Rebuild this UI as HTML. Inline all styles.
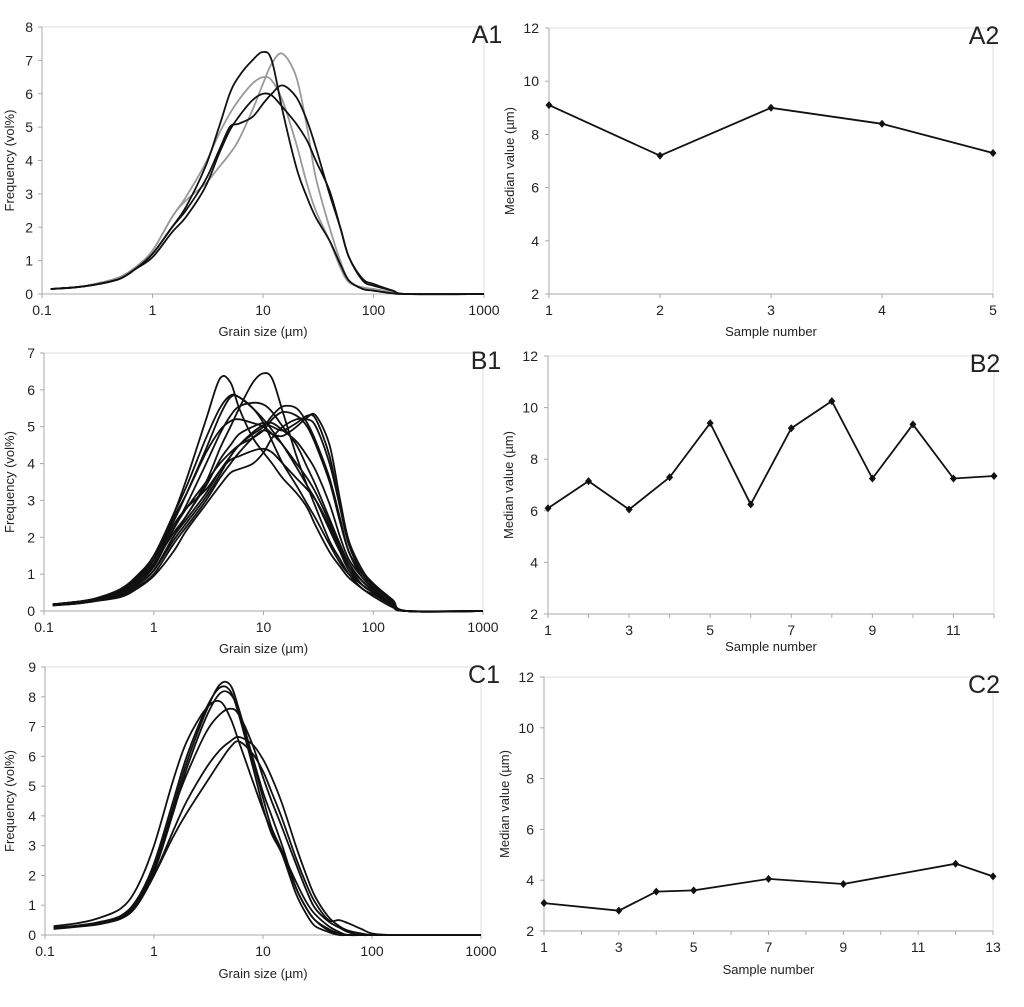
<!DOCTYPE html>
<html><head><meta charset="utf-8">
<style>
html,body{margin:0;padding:0;background:#fff;}
svg{display:block;font-family:"Liberation Sans",sans-serif;}
</style></head>
<body>
<svg id="fig" width="1024" height="1007" viewBox="0 0 1024 1007" xmlns="http://www.w3.org/2000/svg"></svg>
<script>
// ---- data ----
const grainSizes = [0.12,0.2,0.3,0.5,0.7,1,1.5,2,3,4,5,6,8,10,12,15,20,25,30,40,50,60,80,100,150,200,1000];
const xLogTicks = [0.1,1,10,100,1000];
const xLogTickLabels = ["0.1","1","10","100","1000"];

const seriesA1 = [
 [0.15,0.2,0.28,0.45,0.75,1.2,2.0,2.6,3.8,5.0,6.0,6.5,7.0,7.25,7.0,5.5,3.8,2.9,2.3,1.6,0.9,0.4,0.15,0.1,0.02,0,0],
 [0.15,0.2,0.28,0.45,0.75,1.2,2.0,2.5,3.4,4.3,5.0,5.1,5.3,5.7,6.0,6.25,5.9,5.2,4.4,3.0,2.0,1.1,0.45,0.3,0.1,0,0],
 [0.15,0.2,0.28,0.45,0.75,1.1,1.85,2.3,3.2,4.2,4.9,5.3,5.8,6.0,5.95,5.6,5.1,4.6,4.0,3.1,2.0,1.1,0.4,0.25,0.1,0,0]
];
const seriesA1gray = [
 [0.15,0.2,0.3,0.5,0.8,1.3,2.3,2.8,3.3,3.8,4.2,4.6,5.5,6.3,6.9,7.2,6.5,5.0,3.5,2.0,1.0,0.4,0.15,0.15,0.05,0,0],
 [0.15,0.2,0.3,0.5,0.8,1.3,2.3,2.9,3.9,4.8,5.4,5.8,6.3,6.5,6.4,5.8,4.5,3.3,2.5,1.6,0.8,0.35,0.2,0.15,0.05,0,0]
];
const seriesB1 = [
 [0.18,0.25,0.33,0.55,0.9,1.5,2.6,3.6,5.2,6.3,6.2,5.5,4.7,4.3,4.0,3.6,3.2,2.8,2.3,1.6,1.2,0.9,0.6,0.4,0.1,0,0],
 [0.18,0.25,0.33,0.5,0.8,1.3,2.1,2.6,3.5,4.4,5.0,5.5,6.2,6.45,6.3,5.4,4.2,3.4,2.8,1.9,1.4,1.0,0.6,0.45,0.15,0,0],
 [0.18,0.25,0.35,0.6,0.95,1.5,2.6,3.4,4.7,5.5,5.85,5.8,5.5,5.2,4.9,4.5,3.9,3.4,3.0,2.2,1.6,1.2,0.8,0.55,0.2,0,0],
 [0.18,0.24,0.32,0.5,0.85,1.4,2.4,3.2,4.4,5.3,5.8,5.8,5.5,5.1,4.6,4.0,3.4,2.9,2.5,1.8,1.3,1.0,0.7,0.5,0.15,0,0],
 [0.18,0.24,0.32,0.5,0.8,1.25,2.2,2.9,4.0,4.8,5.3,5.55,5.65,5.6,5.4,5.0,4.5,3.9,3.4,2.5,1.8,1.3,0.8,0.55,0.2,0,0],
 [0.16,0.22,0.3,0.45,0.7,1.1,1.9,2.4,3.1,3.7,4.2,4.5,4.8,5.0,5.3,5.55,5.5,5.1,4.6,3.6,2.5,1.6,1.0,0.7,0.25,0,0],
 [0.16,0.22,0.3,0.45,0.75,1.2,2.2,2.8,3.5,4.0,4.3,4.5,4.7,4.9,5.2,5.4,5.3,5.0,4.5,3.5,2.4,1.6,0.9,0.65,0.25,0,0],
 [0.16,0.2,0.28,0.42,0.65,1.0,1.8,2.3,3.0,3.6,4.0,4.3,4.7,4.9,4.8,4.75,5.0,5.25,5.3,4.5,3.0,1.9,1.1,0.75,0.3,0,0],
 [0.16,0.22,0.3,0.45,0.7,1.1,2.0,2.6,3.4,4.1,4.5,4.8,5.0,5.1,5.0,4.9,5.1,5.3,5.2,4.2,2.8,1.8,1.0,0.7,0.3,0,0],
 [0.18,0.24,0.32,0.5,0.85,1.4,2.5,3.2,4.3,4.9,5.15,5.2,5.1,5.0,4.8,4.5,4.0,3.6,3.2,2.4,1.7,1.2,0.7,0.5,0.15,0,0],
 [0.16,0.22,0.3,0.45,0.7,1.1,2.0,2.5,3.2,3.8,4.2,4.5,4.85,5.05,5.1,4.9,4.6,4.2,3.8,2.9,2.0,1.4,0.9,0.6,0.2,0,0],
 [0.15,0.2,0.27,0.38,0.6,0.95,1.6,2.2,2.9,3.4,3.75,3.85,4.0,4.3,4.7,5.0,5.2,5.2,5.0,4.0,2.8,1.8,1.0,0.7,0.3,0,0],
 [0.16,0.22,0.3,0.48,0.8,1.3,2.3,2.8,3.3,3.8,4.1,4.2,4.35,4.4,4.3,4.0,3.6,3.3,3.0,2.3,1.6,1.1,0.7,0.5,0.15,0,0]
];
const seriesC1 = [
 [0.25,0.3,0.38,0.6,1.1,2.2,4.3,5.8,7.5,8.4,8.4,7.6,6.0,4.8,4.0,3.0,1.6,0.9,0.5,0.15,0.05,0,0,0,0,0,0],
 [0.25,0.3,0.4,0.65,1.2,2.4,4.5,6.0,7.6,8.3,8.2,7.4,5.7,4.3,3.4,2.7,1.4,0.7,0.3,0.1,0,0,0,0,0,0,0],
 [0.2,0.28,0.35,0.55,1.0,2.1,4.1,5.6,7.3,8.1,8.1,7.5,5.9,4.6,3.6,2.8,1.6,0.9,0.5,0.2,0.05,0,0,0,0,0,0],
 [0.3,0.4,0.55,0.9,1.6,3.0,5.2,6.5,7.6,7.85,7.3,6.5,5.2,4.2,3.5,2.8,1.8,1.1,0.7,0.3,0.1,0,0,0,0,0,0],
 [0.25,0.32,0.42,0.65,1.2,2.3,4.2,5.4,6.8,7.4,7.6,7.4,6.4,5.3,4.5,3.6,2.4,1.5,0.9,0.45,0.25,0.1,0,0,0,0,0],
 [0.25,0.3,0.4,0.6,1.05,2.0,3.5,4.5,5.6,6.2,6.5,6.65,6.4,5.9,5.3,4.4,3.0,2.0,1.3,0.6,0.3,0.15,0.05,0,0,0,0],
 [0.25,0.3,0.4,0.6,1.05,2.0,3.3,4.1,5.1,5.8,6.3,6.5,6.1,5.5,4.8,3.9,2.6,1.7,1.1,0.5,0.5,0.4,0.2,0.05,0,0,0]
];
const samplesA2 = [1,2,3,4,5];
const mediansA2 = [9.1,7.2,9.0,8.4,7.3];
const samplesB2 = [1,2,3,4,5,6,7,8,9,10,11,12];
const mediansB2 = [6.1,7.15,6.05,7.3,9.4,6.25,9.2,10.25,7.25,9.35,7.25,7.35];
const samplesC2 = [1,3,4,5,7,9,12,13];
const mediansC2 = [3.1,2.8,3.55,3.6,4.05,3.85,4.65,4.15];
const medianTicks = [2,4,6,8,10,12];

// ---- rendering ----
const svg = document.getElementById('fig');
const NS = 'http://www.w3.org/2000/svg';
function mk(tag, attrs, parent){
  const e = document.createElementNS(NS, tag);
  for (const k in attrs) e.setAttribute(k, attrs[k]);
  (parent||svg).appendChild(e);
  return e;
}
function txt(x,y,s,size,anchor,parent){
  const t = mk('text',{x:x,y:y,'font-size':size,'text-anchor':anchor||'middle',fill:'#222'},parent);
  t.textContent = s;
  return t;
}
function smoothPath(pts){
  let d = 'M'+pts[0][0].toFixed(1)+','+pts[0][1].toFixed(1);
  for (let i=0;i<pts.length-1;i++){
    const p0=pts[Math.max(0,i-1)], p1=pts[i], p2=pts[i+1], p3=pts[Math.min(pts.length-1,i+2)];
    const c1x=p1[0]+(p2[0]-p0[0])/6, c1y=p1[1]+(p2[1]-p0[1])/6;
    const c2x=p2[0]-(p3[0]-p1[0])/6, c2y=p2[1]-(p3[1]-p1[1])/6;
    d+=' C'+c1x.toFixed(1)+','+c1y.toFixed(1)+' '+c2x.toFixed(1)+','+c2y.toFixed(1)+' '+p2[0].toFixed(1)+','+p2[1].toFixed(1);
  }
  return d;
}
function frame(g,L,R,T,B){
  mk('rect',{x:L,y:T,width:R-L,height:B-T,fill:'none',stroke:'#dcdcdc','stroke-width':1},g);
  mk('line',{x1:L,y1:T,x2:L,y2:B,stroke:'#aaa','stroke-width':1},g);
  mk('line',{x1:L,y1:B,x2:R,y2:B,stroke:'#aaa','stroke-width':1},g);
}

function logPanel(name,label,L,R,T,B,ymax,blacks,grays,titleY){
  const g = mk('g',{});
  
  
  const xs = v => L + (Math.log10(v)+1)/4*(R-L);
  const ys = v => B - v/ymax*(B-T);
  frame(g,L,R,T,B);
  for (let i=0;i<=ymax;i++){
    mk('line',{x1:L-4,y1:ys(i),x2:L,y2:ys(i),stroke:'#aaa'},g);
    txt(L-9,ys(i)+5,String(i),14,'end',g);
  }
  xLogTicks.forEach((t,i)=>{
    mk('line',{x1:xs(t),y1:B,x2:xs(t),y2:B+4,stroke:'#aaa'},g);
    txt(xs(t),B+21,xLogTickLabels[i],14,'middle',g);
  });
  const xt = txt((L+R)/2,titleY,'Grain size (µm)',13,'middle',g);
  
  const yt = txt(0,0,'Frequency (vol%)',13,'middle',g);
  yt.setAttribute('transform','translate(14,'+((T+B)/2)+') rotate(-90)');
  
  const pl = txt(R+3,T+16,label,25,'middle',g);
  
  const draw=(arr,col,w)=>arr.forEach((s,k)=>{
    const pts = grainSizes.map((x,i)=>[xs(x),ys(s[i])]);
    const p = mk('path',{d:smoothPath(pts),fill:'none',stroke:col,'stroke-width':w,'stroke-linejoin':'round'},g);
    
    
  });
  draw(grays,'#9a9a9a',1.8);
  draw(blacks,'#111',1.8);
}

function medPanel(name,label,L,R,T,B,xmax,ticks,xsArr,vals,titleY){
  const g = mk('g',{});
  
  
  const xs = v => L + (v-1)/(xmax-1)*(R-L);
  const ys = v => B - (v-2)/10*(B-T);
  frame(g,L,R,T,B);
  medianTicks.forEach(t=>{
    mk('line',{x1:L-4,y1:ys(t),x2:L,y2:ys(t),stroke:'#aaa'},g);
    txt(L-10,ys(t)+5,String(t),14,'end',g);
  });
  for (let i=1;i<=xmax;i++) mk('line',{x1:xs(i),y1:B,x2:xs(i),y2:B+4,stroke:'#aaa'},g);
  ticks.forEach(t=>txt(xs(t),B+21,String(t),14,'middle',g));
  const xt = txt((L+R)/2,titleY,'Sample number',13,'middle',g);
  
  const yt = txt(0,0,'Median value (µm)',13,'middle',g);
  yt.setAttribute('transform','translate('+(L-35)+','+((T+B)/2)+') rotate(-90)');
  
  const pl = txt(R-9,T+16,label,25,'middle',g);
  
  const pts = xsArr.map((x,i)=>xs(x).toFixed(1)+','+ys(vals[i]).toFixed(1)).join(' ');
  const line = mk('polyline',{points:pts,fill:'none',stroke:'#111','stroke-width':1.8},g);
  
  
  xsArr.forEach((x,i)=>{
    const cx=xs(x), cy=ys(vals[i]);
    const m = mk('path',{d:'M'+cx+','+(cy-4)+' L'+(cx+3.5)+','+cy+' L'+cx+','+(cy+4)+' L'+(cx-3.5)+','+cy+' Z',fill:'#111'},g);
    
    
  });
}

logPanel('chart-a1','A1',42,484,27,294,8,seriesA1,seriesA1gray,336);
logPanel('chart-b1','B1',44,483,353,611,7,seriesB1,[],653);
logPanel('chart-c1','C1',45,481,667,935,9,seriesC1,[],978);
medPanel('chart-a2','A2',549,993,28,294,5,[1,2,3,4,5],samplesA2,mediansA2,336);
medPanel('chart-b2','B2',548,994,356,614,12,[1,3,5,7,9,11],samplesB2,mediansB2,651);
medPanel('chart-c2','C2',544,993,677,931,13,[1,3,5,7,9,11,13],samplesC2,mediansC2,974);
</script>
</body></html>
